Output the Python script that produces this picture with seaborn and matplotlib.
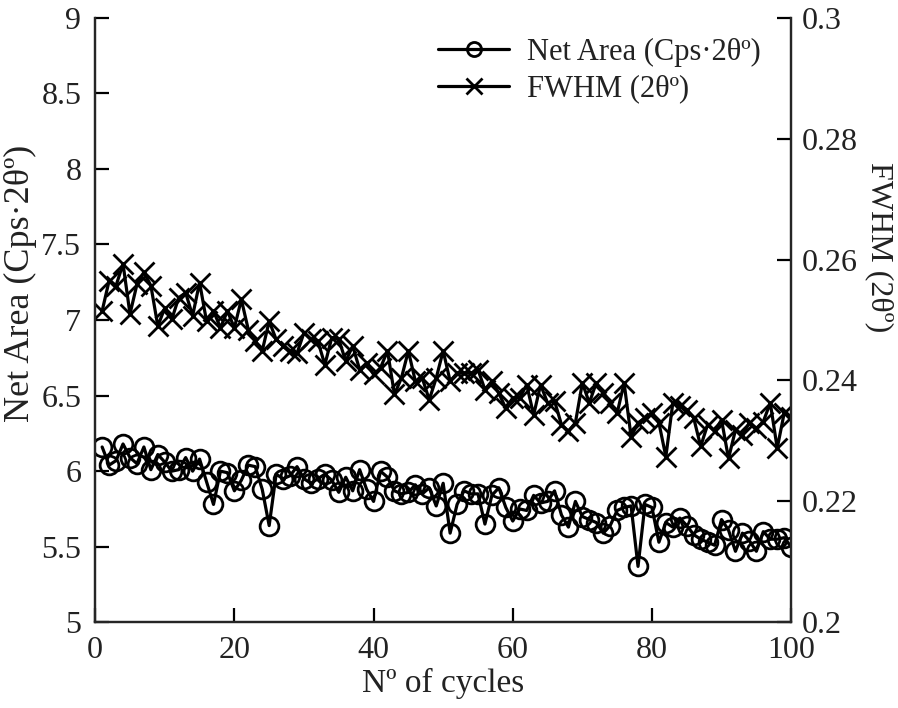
import matplotlib
matplotlib.use("Agg")
import matplotlib.pyplot as plt
import seaborn as sns
import pandas as pd

# cycle number
cycles = list(range(1, 101))

# Net Area (Cps·2θº), left axis
net_area = [
    6.16, 6.04, 6.07, 6.18, 6.09, 6.05, 6.16, 6.01, 6.11, 6.06,
    6.00, 6.01, 6.09, 6.00, 6.08, 5.93, 5.78, 6.00, 5.99, 5.87,
    5.94, 6.04, 6.03, 5.88, 5.64, 5.98, 5.95, 5.97, 6.03, 5.95,
    5.92, 5.95, 5.98, 5.94, 5.86, 5.96, 5.87, 6.01, 5.88, 5.80,
    6.00, 5.96, 5.87, 5.85, 5.86, 5.91, 5.85, 5.89, 5.77, 5.92,
    5.59, 5.78, 5.87, 5.85, 5.85, 5.65, 5.84, 5.89, 5.76, 5.67,
    5.75, 5.74, 5.84, 5.79, 5.80, 5.87, 5.71, 5.63, 5.80, 5.70,
    5.68, 5.66, 5.59, 5.64, 5.74, 5.76, 5.77, 5.37, 5.78, 5.76,
    5.53, 5.66, 5.63, 5.69, 5.64, 5.58, 5.55, 5.53, 5.51, 5.68,
    5.61, 5.47, 5.59, 5.54, 5.47, 5.60, 5.55, 5.55, 5.56, 5.50,
]

# FWHM (2θº), right axis
fwhm = [
    0.2515, 0.2565, 0.2557, 0.2593, 0.2510, 0.2559, 0.2579, 0.2557, 0.2490, 0.2520,
    0.2501, 0.2537, 0.2545, 0.2507, 0.2562, 0.2498, 0.2515, 0.2487, 0.2515, 0.2487,
    0.2534, 0.2484, 0.2465, 0.2449, 0.2498, 0.2468, 0.2457, 0.2449, 0.2445, 0.2479,
    0.2468, 0.2465, 0.2426, 0.2471, 0.2468, 0.2432, 0.2457, 0.2418, 0.2429, 0.2410,
    0.2421, 0.2449, 0.2377, 0.2404, 0.2449, 0.2399, 0.2404, 0.2368, 0.2404, 0.2449,
    0.2399, 0.2412, 0.2412, 0.2412, 0.2418, 0.2385, 0.2399, 0.2379, 0.2354, 0.2371,
    0.2371, 0.2393, 0.2343, 0.2393, 0.2363, 0.2366, 0.2327, 0.2316, 0.2330, 0.2396,
    0.2363, 0.2396, 0.2380, 0.2363, 0.2346, 0.2396, 0.2307, 0.2330, 0.2338, 0.2346,
    0.2330, 0.2274, 0.2363, 0.2357, 0.2352, 0.2338, 0.2291, 0.2327, 0.2316, 0.2335,
    0.2271, 0.2318, 0.2310, 0.2330, 0.2321, 0.2332, 0.2363, 0.2288, 0.2346, 0.2340,
]

df = pd.DataFrame({"cycle": cycles, "net_area": net_area, "fwhm": fwhm})

sns.set_theme(style="ticks")
plt.rcParams["font.family"] = ["Liberation Serif", "DejaVu Serif"]
plt.rcParams["xtick.direction"] = "in"
plt.rcParams["ytick.direction"] = "in"

tick_fs = 23
txt = "#222222"
fig = plt.figure(figsize=(8.98, 7.08), dpi=100)
ax = fig.add_axes([0.106, 0.121, 0.775, 0.854])
ax2 = ax.twinx()

sns.lineplot(data=df, x="cycle", y="net_area", ax=ax, color="black", lw=2.3,
             marker="o", markersize=13.5, markerfacecolor="none",
             markeredgecolor="black", markeredgewidth=2,
             label="Net Area (Cps·2θº)", legend=False)
sns.lineplot(data=df, x="cycle", y="fwhm", ax=ax2, color="black", lw=2.3,
             marker="x", markersize=14.5, markeredgecolor="black",
             markeredgewidth=2, label="FWHM (2θº)", legend=False)

ax.set_xlim(0, 100)
ax.set_ylim(5, 9)
ax2.set_ylim(0.2, 0.3)
ax.set_xticks([0, 20, 40, 60, 80, 100])
ax.set_yticks([5, 5.5, 6, 6.5, 7, 7.5, 8, 8.5, 9])
ax.set_yticklabels(["5", "5.5", "6", "6.5", "7", "7.5", "8", "8.5", "9"])
ax2.set_yticks([0.2, 0.22, 0.24, 0.26, 0.28, 0.3])
ax2.set_yticklabels(["0.2", "0.22", "0.24", "0.26", "0.28", "0.3"])

for a in (ax, ax2):
    a.spines["top"].set_visible(False)
    for s in a.spines.values():
        s.set_linewidth(1.6)
    a.tick_params(labelsize=tick_fs, width=1.6, length=10, colors="black",
                  labelcolor=txt)
ax.tick_params(axis="x", pad=10)
ax.tick_params(axis="y", pad=10)
ax2.tick_params(axis="y", pad=8)

ax.set_xlabel("Nº of cycles", fontsize=24, labelpad=2, color=txt)
ax.set_ylabel("Net Area (Cps·2θº)", fontsize=26, color=txt)
ax.yaxis.label.set_va("center")
ax.yaxis.set_label_coords(-0.107, 0.56)
ax2.set_ylabel("FWHM (2θº)", fontsize=23, rotation=270, color=txt)
ax2.yaxis.label.set_va("center")
ax2.yaxis.set_label_coords(1.126, 0.62)

h1, l1 = ax.get_legend_handles_labels()
h2, l2 = ax2.get_legend_handles_labels()
leg = ax2.legend(h1 + h2, l1 + l2, loc="upper right", frameon=False,
                 fontsize=22, handlelength=2.3, handletextpad=0.6,
                 labelspacing=0.25, borderaxespad=0.25, markerscale=0.75,
                 bbox_to_anchor=(0.985, 1.0))
for t in leg.get_texts():
    t.set_color(txt)

fig.savefig("out.png", dpi=100)
